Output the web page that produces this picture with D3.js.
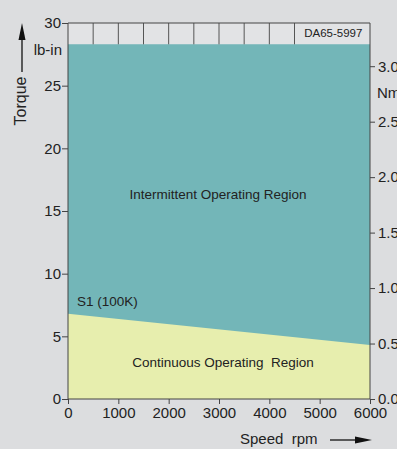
<!DOCTYPE html>
<html>
<head>
<meta charset="utf-8">
<script src="https://cdn.jsdelivr.net/npm/d3@7"></script>
<style>
  html, body { margin: 0; padding: 0; background: #dcdddf; }
  svg { display: block; font-family: "Liberation Sans", Arial, sans-serif; }
  svg text { white-space: pre; }
</style>
</head>
<body>
<svg id="chart" width="397" height="449"></svg>
<script>
// Speed (rpm) vs torque (lb-in) operating envelope
const speeds = [0, 6000];
const intermittentTorque = [28.3, 28.3];
const continuousTorque = [6.8, 4.3];
const xTicks = [0, 1000, 2000, 3000, 4000, 5000, 6000];
const yTicks = [0, 5, 10, 15, 20, 25, 30];
const nmTicks = [0.0, 0.5, 1.0, 1.5, 2.0, 2.5, 3.0];
const gridSpeeds = [500, 1000, 1500, 2000, 2500, 3000, 3500, 4000, 4500];
const LBIN_PER_NM = 8.8507;

const svg = d3.select("#chart");
const plotL = 68, plotR = 370, plotT = 23, plotB = 399;

const x = d3.scaleLinear().domain([0, 6000]).range([plotL, plotR]);
const y = d3.scaleLinear().domain([0, 30]).range([plotB, plotT]);
const yNm = d3.scaleLinear().domain([0, 30 / LBIN_PER_NM]).range([plotB, plotT]);

const axisColor = "#444";
const textColor = "#222";
const tickFont = 15;

// Header strip above the envelope
svg.append("rect")
  .attr("x", plotL).attr("y", plotT)
  .attr("width", plotR - plotL).attr("height", y(intermittentTorque[0]) - plotT)
  .attr("fill", "#e2e3e5");

// Intermittent region (fills up to its torque ceiling)
const pts = speeds.map((s, i) => ({ s, hi: intermittentTorque[i], lo: continuousTorque[i] }));
svg.append("path")
  .datum(pts)
  .attr("fill", "#73b6b8")
  .attr("d", d3.area().x(d => x(d.s)).y0(d => y(0)).y1(d => y(d.hi)));

// Continuous region
svg.append("path")
  .datum(pts)
  .attr("fill", "#e7eeae")
  .attr("d", d3.area().x(d => x(d.s)).y0(d => y(0)).y1(d => y(d.lo)));

// Cell dividers in header strip
svg.selectAll("line.cell")
  .data(gridSpeeds)
  .join("line")
  .attr("x1", d => x(d)).attr("x2", d => x(d))
  .attr("y1", plotT).attr("y2", y(intermittentTorque[0]))
  .attr("stroke", "#555").attr("stroke-width", 1);

svg.append("text")
  .attr("x", (x(4500) + plotR) / 2 + 1).attr("y", plotT + 14)
  .attr("text-anchor", "middle")
  .attr("font-size", 11.5).attr("fill", textColor)
  .text("DA65-5997");

// Axes
const styleAxis = g => {
  g.select(".domain").remove();
  g.selectAll(".tick line").attr("stroke", axisColor);
  g.selectAll(".tick text").attr("fill", textColor).attr("font-size", tickFont)
    .attr("font-family", "Liberation Sans, Arial, sans-serif");
};

svg.append("g")
  .attr("transform", `translate(0,${plotB})`)
  .call(d3.axisBottom(x).tickValues(xTicks).tickFormat(d3.format("d")).tickSize(5).tickPadding(3))
  .call(styleAxis);

svg.append("g")
  .attr("transform", `translate(${plotL},0)`)
  .call(d3.axisLeft(y).tickValues(yTicks).tickFormat(d3.format("d")).tickSize(6).tickPadding(1))
  .call(styleAxis);

svg.append("g")
  .attr("transform", `translate(${plotR},0)`)
  .call(d3.axisRight(yNm).tickValues(nmTicks).tickFormat(d3.format(".1f")).tickSize(5).tickPadding(3))
  .call(styleAxis);

// Frame lines
svg.append("line").attr("x1", plotL).attr("x2", plotL).attr("y1", plotT).attr("y2", plotB).attr("stroke", axisColor);
svg.append("line").attr("x1", plotR).attr("x2", plotR).attr("y1", plotT).attr("y2", plotB).attr("stroke", axisColor);
svg.append("line").attr("x1", plotL).attr("x2", plotR).attr("y1", plotT).attr("y2", plotT).attr("stroke", axisColor);
svg.append("line").attr("x1", plotL).attr("x2", plotR).attr("y1", plotB).attr("y2", plotB).attr("stroke", axisColor);

// Unit labels
svg.append("text").attr("x", 62).attr("y", 55).attr("text-anchor", "end")
  .attr("font-size", 15).attr("fill", textColor).text("lb-in");
svg.append("text").attr("x", 377).attr("y", 98)
  .attr("font-size", 15).attr("fill", textColor).text("Nm");

// Torque title with upward arrow
svg.append("text")
  .attr("transform", "translate(26,101) rotate(-90)")
  .attr("text-anchor", "middle")
  .attr("font-size", 16).attr("fill", textColor).text("Torque");
svg.append("line").attr("x1", 22).attr("x2", 22).attr("y1", 72).attr("y2", 36)
  .attr("stroke", "#111").attr("stroke-width", 1.3);
svg.append("path").attr("d", "M22,23 L18.5,40 L25.5,40 Z").attr("fill", "#111");

// Speed title with right arrow
svg.append("text")
  .attr("x", 240).attr("y", 444)
  .attr("font-size", 15).attr("fill", textColor).text("Speed  rpm");
svg.append("line").attr("x1", 330).attr("x2", 358).attr("y1", 440).attr("y2", 440)
  .attr("stroke", "#111").attr("stroke-width", 1.3);
svg.append("path").attr("d", "M372,440 L355,436.5 L355,443.5 Z").attr("fill", "#111");

// Region labels
svg.append("text").attr("x", 218).attr("y", 199).attr("text-anchor", "middle")
  .attr("font-size", 13.5).attr("fill", textColor).text("Intermittent Operating Region");
svg.append("text").attr("x", 223).attr("y", 367).attr("text-anchor", "middle")
  .attr("font-size", 13.5).attr("fill", textColor).text("Continuous Operating  Region");
svg.append("text").attr("x", 77).attr("y", 306)
  .attr("font-size", 13.5).attr("fill", textColor).text("S1 (100K)");
</script>
</body>
</html>
